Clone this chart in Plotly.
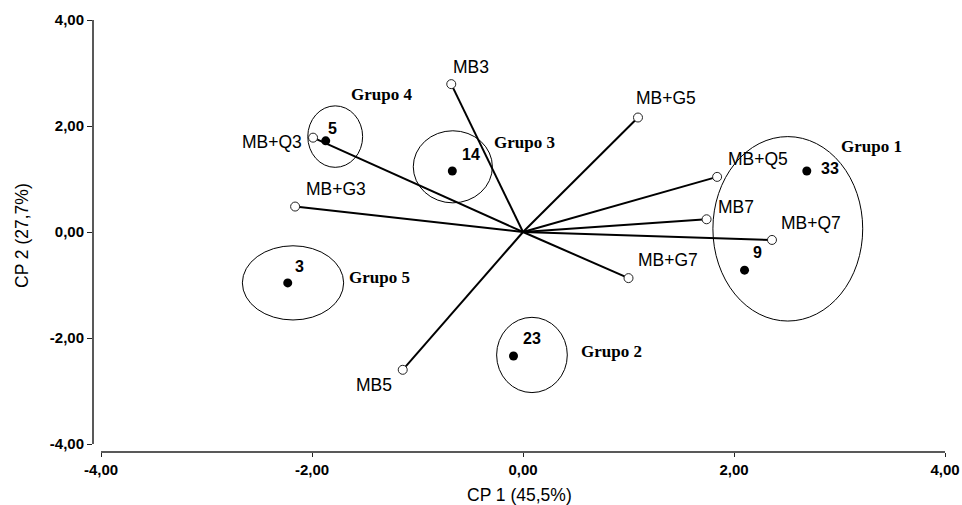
import plotly.graph_objects as go

# Variable vectors (loadings) - open circles
var_names = ["MB3", "MB+Q3", "MB+G3", "MB5", "MB+G7", "MB+G5", "MB+Q5", "MB7", "MB+Q7"]
var_x = [-0.68, -1.99, -2.16, -1.14, 1.00, 1.09, 1.84, 1.74, 2.36]
var_y = [2.79, 1.78, 0.48, -2.60, -0.87, 2.16, 1.04, 0.24, -0.15]

# Treatments (scores) - filled dots
obs_names = ["5", "14", "3", "23", "33", "9"]
obs_x = [-1.87, -0.67, -2.23, -0.09, 2.69, 2.10]
obs_y = [1.72, 1.15, -0.96, -2.34, 1.15, -0.72]

# Group ellipses (bounding boxes in data units)
grp_names = ["Grupo 1", "Grupo 2", "Grupo 3", "Grupo 4", "Grupo 5"]
grp_x0 = [1.80, -0.25, -1.04, -2.04, -2.66]
grp_x1 = [3.22, 0.42, -0.29, -1.52, -1.70]
grp_y0 = [-1.68, -3.03, 0.55, 1.22, -1.66]
grp_y1 = [1.80, -1.61, 1.91, 2.38, -0.26]
grp_lx = [3.30, 0.84, 0.01, -1.34, -1.36]
grp_ly = [1.61, -2.26, 1.68, 2.60, -0.86]

tick_vals = [-4, -2, 0, 2, 4]
tick_text = ["-4,00", "-2,00", "0,00", "2,00", "4,00"]

# label offsets in pixels (dx, dy screen-up)
var_off = [(20, 17), (-41, -4), (41, 18), (-29, -15), (39, 18), (28, 20), (41, 18), (29, 12), (39, 17)]
obs_off = [(7, 12), (19, 17), (12, 16), (18, 18), (23, 3), (13, 18)]

SANS = "Liberation Sans, Arial, sans-serif"
SERIF = "Liberation Serif, Times New Roman, serif"

fig = go.Figure()

lx, ly = [], []
for x, y in zip(var_x, var_y):
    lx += [0, x, None]
    ly += [0, y, None]
fig.add_trace(go.Scatter(x=lx, y=ly, mode="lines", line=dict(color="black", width=2),
                         hoverinfo="skip", showlegend=False))
fig.add_trace(go.Scatter(x=var_x, y=var_y, mode="markers", text=var_names,
                         marker=dict(symbol="circle", size=9, color="white",
                                     line=dict(color="#222", width=1)),
                         showlegend=False))
fig.add_trace(go.Scatter(x=obs_x, y=obs_y, mode="markers", text=obs_names,
                         marker=dict(symbol="circle", size=9, color="black"),
                         showlegend=False))

shapes = []
for x0, x1, y0, y1 in zip(grp_x0, grp_x1, grp_y0, grp_y1):
    shapes.append(dict(type="circle", xref="x", yref="y", x0=x0, x1=x1, y0=y0, y1=y1,
                       line=dict(color="black", width=1)))
# offset axis lines
shapes.append(dict(type="line", xref="paper", yref="y", x0=0, x1=0, y0=-4, y1=4,
                   line=dict(color="#222", width=1.5)))
shapes.append(dict(type="line", xref="x", yref="paper", x0=-4, x1=4, y0=0, y1=0,
                   line=dict(color="#222", width=1.5)))

ann = []
for n, x, y, (dx, dy) in zip(var_names, var_x, var_y, var_off):
    ann.append(dict(x=x, y=y, text=n, showarrow=False, xshift=dx, yshift=dy,
                    font=dict(family=SANS, size=17.5, color="black")))
for n, x, y, (dx, dy) in zip(obs_names, obs_x, obs_y, obs_off):
    ann.append(dict(x=x, y=y, text="<b>" + n + "</b>", showarrow=False, xshift=dx, yshift=dy,
                    font=dict(family=SANS, size=16, color="black")))
for n, x, y in zip(grp_names, grp_lx, grp_ly):
    ann.append(dict(x=x, y=y, text="<b>" + n + "</b>", showarrow=False,
                    font=dict(family=SERIF, size=17, color="black")))
# axis titles
ann.append(dict(x=0.5, y=-0.0, xref="paper", yref="paper", yshift=-43, xanchor="center",
                yanchor="middle", text="CP 1 (45,5%)", showarrow=False,
                font=dict(family=SANS, size=17.5, color="black")))
ann.append(dict(x=0.0, y=0.5, xref="paper", yref="paper", xshift=-71, xanchor="center",
                yanchor="middle", text="CP 2 (27,7%)", textangle=-90, showarrow=False,
                font=dict(family=SANS, size=17.5, color="black")))

fig.update_layout(
    width=962, height=505,
    margin=dict(l=93, r=17, t=20, b=53),
    plot_bgcolor="white", paper_bgcolor="white",
    shapes=shapes, annotations=ann,
    xaxis=dict(range=[-4.0758, 4], tickvals=tick_vals, ticktext=tick_text,
               showgrid=False, zeroline=False, showline=False, automargin=False,
               ticks="outside", ticklen=4, tickcolor="#222", tickwidth=1,
               tickfont=dict(family=SANS, size=15, color="black", weight="bold")),
    yaxis=dict(range=[-4.151, 4], tickvals=tick_vals, ticktext=tick_text,
               showgrid=False, zeroline=False, showline=False, automargin=False,
               ticks="outside", ticklen=5, tickcolor="#222", tickwidth=1,
               tickfont=dict(family=SANS, size=15, color="black", weight="bold")),
)

fig.write_html("out.html", config={"displayModeBar": False},
               post_script="document.body.style.margin='0';document.body.style.overflow='hidden';")
